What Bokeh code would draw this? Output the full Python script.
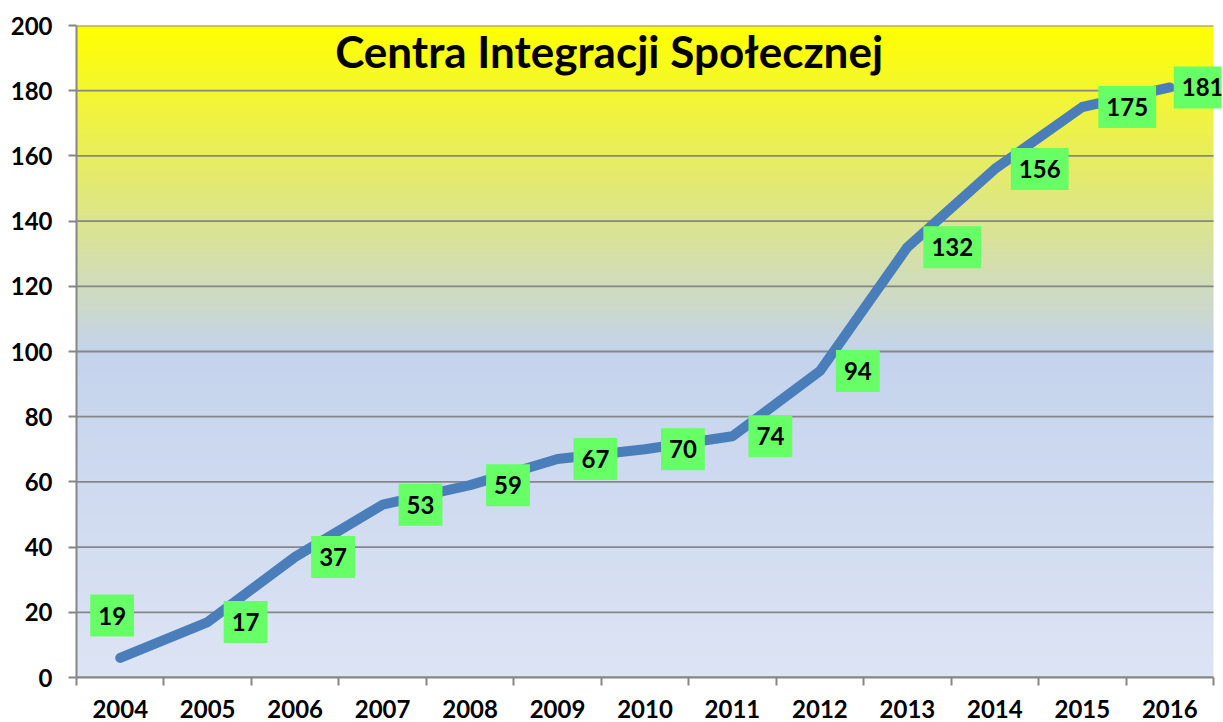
import numpy as np
from bokeh.plotting import figure
from bokeh.models import Range1d, FixedTicker, Label
from bokeh.embed import file_html
from bokeh.resources import INLINE

# ---- data ----
years = ["2004", "2005", "2006", "2007", "2008", "2009", "2010",
         "2011", "2012", "2013", "2014", "2015", "2016"]
line_values = [6, 17, 37, 53, 59, 67, 70, 74, 94, 132, 156, 175, 181]
label_values = [19, 17, 37, 53, 59, 67, 70, 74, 94, 132, 156, 175, 181]
y_ticks = [0, 20, 40, 60, 80, 100, 120, 140, 160, 180, 200]
title_text = "Centra Integracji Społecznej"

FONT = "Lato"
AXIS_GRAY = "#868686"
LINE_BLUE = "#4A7EBB"
LABEL_GREEN = "#66FF66"

n = len(years)
xc = [i + 0.5 for i in range(n)]
x_extra = 8 / 87.5  # room so the last data label is not clipped

p = figure(width=1223, height=722,
           x_range=Range1d(0, n + x_extra), y_range=Range1d(0, 200),
           output_backend="svg", toolbar_location=None,
           min_border_left=76, min_border_right=2,
           min_border_top=25, min_border_bottom=45)
p.outline_line_color = None
p.background_fill_color = None
p.border_fill_color = "white"

# ---- gradient background (decoration) ----
rows = 400
ys = np.linspace(0, 200, rows)
c_top = np.array([255, 255, 0], float)
c_mid = np.array([196, 211, 236], float)
c_bot = np.array([221, 228, 244], float)
img = np.empty((rows, 1), dtype=np.uint32)
view = img.view(dtype=np.uint8).reshape((rows, 1, 4))
for i, yv in enumerate(ys):
    if yv >= 100:
        t = (yv - 100) / 100.0
        c = c_mid + (c_top - c_mid) * t
    else:
        t = yv / 100.0
        c = c_bot + (c_mid - c_bot) * t
    view[i, 0, 0:3] = np.round(c).astype(np.uint8)
    view[i, 0, 3] = 255
p.image_rgba(image=[img], x=0, y=0, dw=n, dh=200, level="image")

# ---- grid (as segments limited to the category span) ----
p.xgrid.grid_line_color = None
p.ygrid.grid_line_color = None
p.segment(x0=[0] * len(y_ticks), x1=[n] * len(y_ticks), y0=y_ticks, y1=y_ticks,
          line_color=AXIS_GRAY, line_width=1.8)

# ---- axes ----
p.yaxis.ticker = FixedTicker(ticks=y_ticks)
p.yaxis.axis_line_color = AXIS_GRAY
p.yaxis.axis_line_width = 2
p.yaxis.major_tick_line_color = AXIS_GRAY
p.yaxis.major_tick_line_width = 2
p.yaxis.major_tick_out = 8
p.yaxis.major_tick_in = 0
p.yaxis.minor_tick_line_color = None
p.yaxis.major_label_standoff = 16
p.yaxis.major_label_text_font = FONT
p.yaxis.major_label_text_font_style = "bold"
p.yaxis.major_label_text_font_size = "24px"
p.yaxis.major_label_text_color = "black"

p.xaxis.ticker = FixedTicker(ticks=xc, minor_ticks=list(range(n + 1)))
p.xaxis.bounds = (0, n)
p.xaxis.major_label_overrides = {x: y for x, y in zip(xc, years)}
p.xaxis.axis_line_color = AXIS_GRAY
p.xaxis.axis_line_width = 2
p.xaxis.major_tick_line_color = None
p.xaxis.major_tick_out = 0
p.xaxis.major_tick_in = 0
p.xaxis.minor_tick_line_color = AXIS_GRAY
p.xaxis.minor_tick_line_width = 2
p.xaxis.minor_tick_out = 8
p.xaxis.minor_tick_in = 0
p.xaxis.major_label_standoff = 14
p.xaxis.major_label_text_font = FONT
p.xaxis.major_label_text_font_style = "bold"
p.xaxis.major_label_text_font_size = "24px"
p.xaxis.major_label_text_color = "black"

# ---- line ----
p.line(xc, line_values, line_color=LINE_BLUE, line_width=10,
       line_cap="round", line_join="round")

# ---- data labels ----
PAD_X, PAD_Y = 8, 12
edge_off = [16] * n
edge_off[0] = -30
edge_off[-1] = 4
for xv, yv, e in zip(xc, label_values, edge_off):
    p.add_layout(Label(x=xv, y=yv, text=str(yv), x_offset=e,
                       text_align="left", text_baseline="middle",
                       text_font=FONT, text_font_style="bold",
                       text_font_size="24px", text_color="black",
                       background_fill_color=LABEL_GREEN,
                       padding=(PAD_X, PAD_Y)))

# ---- title inside plot ----
title = Label(x=6.09, y=192.3, text=title_text,
              text_align="center", text_baseline="middle",
              text_font=FONT, text_font_style="bold",
              text_font_size="44px", text_color="black")
p.add_layout(title)

open("out.html", "w").write(file_html(p, INLINE))
